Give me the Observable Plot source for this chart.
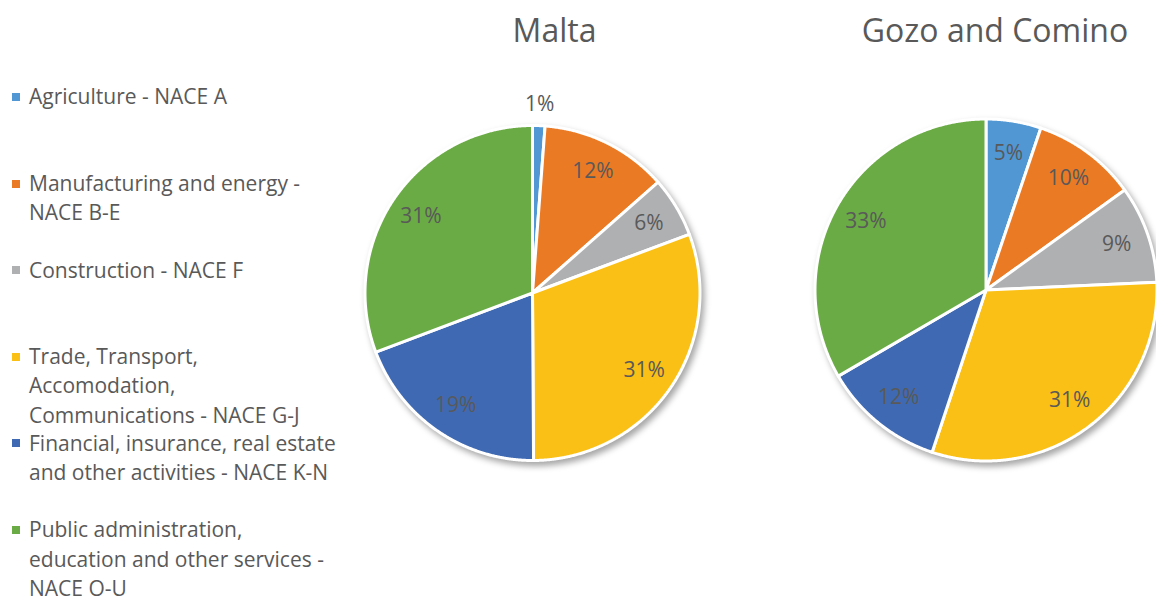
<!DOCTYPE html>
<html>
<head>
<meta charset="utf-8">
<script src="https://cdn.jsdelivr.net/npm/d3@7"></script>
<script src="https://cdn.jsdelivr.net/npm/@observablehq/plot@0.6"></script>
<style>
  html, body { margin: 0; padding: 0; background: #fff; }
  #wrap { position: relative; width: 1156px; height: 596px; overflow: hidden; font-family: "Open Sans", "Noto Sans", sans-serif; }
  #chart { position: absolute; left: 0; top: 0; }
  .lg { position: absolute; left: 29px; font-size: 21px; line-height: 29.3px; color: #595959; white-space: nowrap; }
  .sw { position: absolute; left: 12px; width: 8px; height: 8px; }
</style>
</head>
<body>
<div id="wrap"><div id="chart"></div></div>
<script>
// ---- data ----
const categories = [
  "Agriculture - NACE A",
  "Manufacturing and energy - NACE B-E",
  "Construction - NACE F",
  "Trade, Transport, Accomodation, Communications - NACE G-J",
  "Financial, insurance, real estate and other activities - NACE K-N",
  "Public administration, education and other services - NACE O-U"
];
const legendLines = [
  ["Agriculture - NACE A"],
  ["Manufacturing and energy -", "NACE B-E"],
  ["Construction - NACE F"],
  ["Trade, Transport,", "Accomodation,", "Communications - NACE G-J"],
  ["Financial, insurance, real estate", "and other activities - NACE K-N"],
  ["Public administration,", "education and other services -", "NACE O-U"]
];
const colors = ["#5097D3", "#EB7A25", "#AFB0B2", "#FBC015", "#3F6AB3", "#6AAB45"];
const regions = ["Malta", "Gozo and Comino"];
const maltaValues = [1.2, 12.3, 5.8, 30.6, 19.35, 30.75];
const gozoValues  = [5.2, 9.86, 9.21, 30.83, 11.5, 33.4];

// ---- layout ----
const W = 1156, H = 596;
const pieLayout = [
  {cx: 532, cy: 292.5, r: 167.5, tx: 554, ty: 31},
  {cx: 985.5, cy: 289.5, r: 171, tx: 994.5, ty: 31}
];
const seriesValues = [maltaValues, gozoValues];

const polys = [], labels = [], titles = [];
regions.forEach((region, ri) => {
  const L = pieLayout[ri];
  titles.push({region, x: L.tx, y: L.ty});
  const arcs = d3.pie().sort(null).startAngle(0).endAngle(2 * Math.PI)(seriesValues[ri]);
  arcs.forEach((a, i) => {
    const key = region + "|" + i;
    polys.push({key, cat: categories[i], x: L.cx, y: L.cy});
    const n = Math.max(2, Math.ceil((a.endAngle - a.startAngle) / 0.005));
    for (let k = 0; k <= n; k++) {
      const t = a.startAngle + (a.endAngle - a.startAngle) * k / n;
      polys.push({key, cat: categories[i], x: L.cx + L.r * Math.sin(t), y: L.cy - L.r * Math.cos(t)});
    }
    const mid = (a.startAngle + a.endAngle) / 2;
    const inside = a.value >= 2;
    const lr = inside ? L.r * 0.81 : L.r + 21;
    labels.push({
      text: Math.round(a.value) + "%",
      x: L.cx + lr * Math.sin(mid),
      y: L.cy - lr * Math.cos(mid)
    });
  });
});

const plot = Plot.plot({
  width: W, height: H,
  margin: 0,
  x: {domain: [0, W], range: [0, W], axis: null},
  y: {domain: [0, H], range: [0, H], axis: null},
  color: {domain: categories, range: colors},
  style: {fontFamily: "'Open Sans', 'Noto Sans', sans-serif", background: "white"},
  marks: [
    Plot.line(polys, {x: "x", y: "y", z: "key", fill: "cat", stroke: "white", strokeWidth: 3, curve: "linear-closed"}),
    Plot.text(labels, {x: "x", y: "y", text: "text", fontSize: 21, fill: "#595959"}),
    Plot.text(titles, {x: "x", y: "y", text: "region", fontSize: 32, fill: "#595959"})
  ]
});
document.getElementById("chart").appendChild(plot);
// soft drop shadow under the pies
d3.select(plot).selectAll('g[aria-label="line"]').style("filter", "drop-shadow(3px 4px 3px rgba(0,0,0,0.35))");

// ---- legend ----
const wrap = document.getElementById("wrap");
legendLines.forEach((lines, i) => {
  const cy = 97 + 86.6 * i;
  const sw = document.createElement("div");
  sw.className = "sw";
  sw.style.top = (cy - 4) + "px";
  sw.style.background = colors[i];
  wrap.appendChild(sw);
  const d = document.createElement("div");
  d.className = "lg";
  d.style.top = (cy - 29.3 / 2) + "px";
  d.innerHTML = lines.map(s => s.replace(/&/g, "&amp;")).join("<br>");
  wrap.appendChild(d);
});
</script>
</body>
</html>
